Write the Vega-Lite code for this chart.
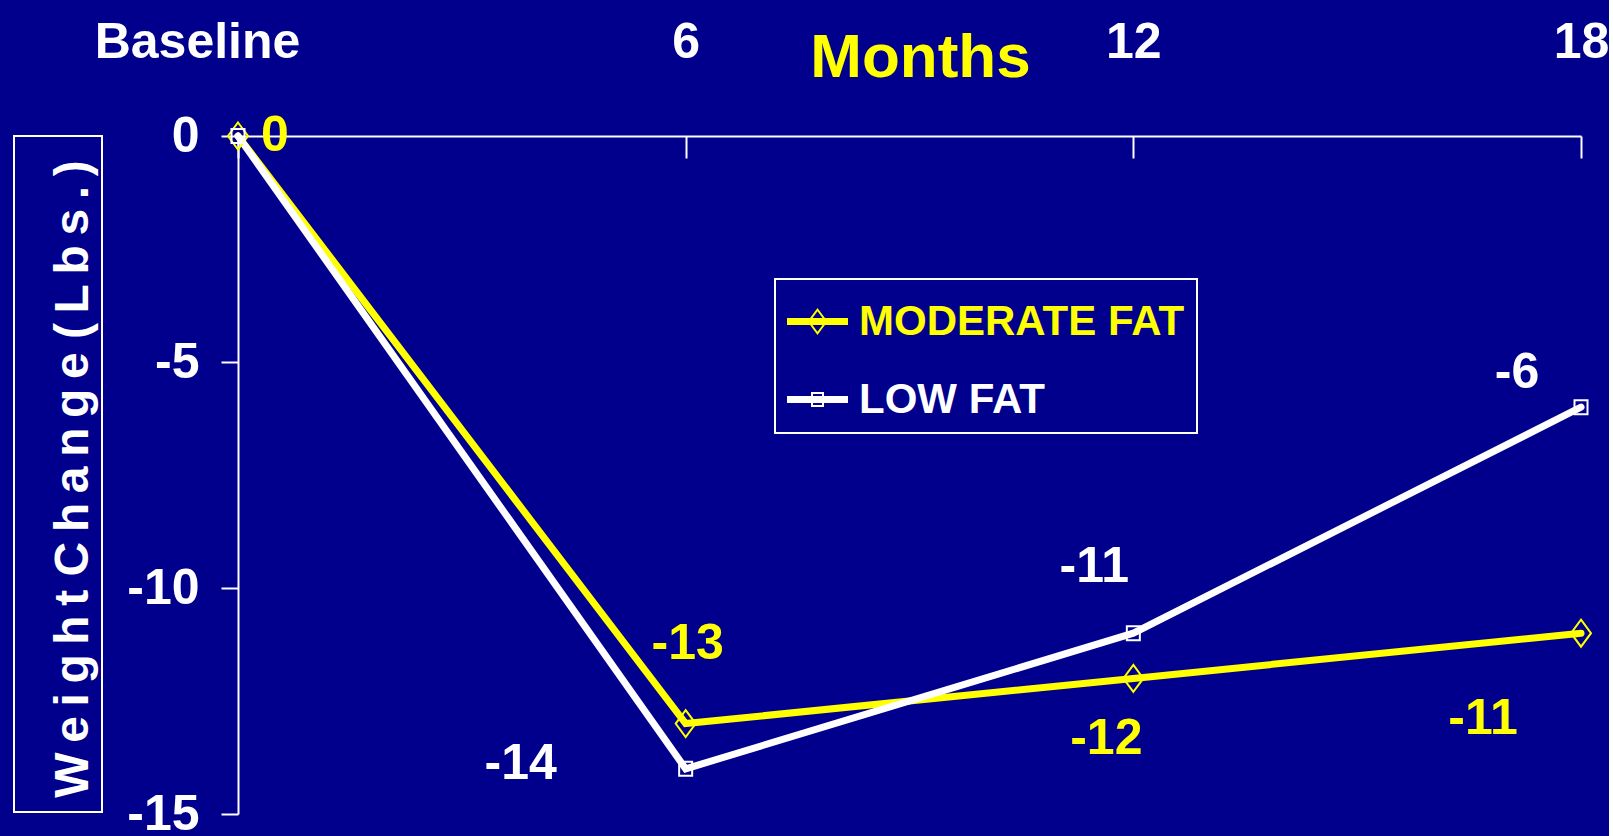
{
  "$schema": "https://vega.github.io/schema/vega-lite/v6.json",
  "background": "#00008C",
  "padding": {"left": 13, "top": 17, "right": 0, "bottom": 0},
  "bounds": "flush",
  "spacing": 136,
  "config": {"view": {"stroke": null}, "font": "Liberation Sans"},
  "datasets": {
    "weights": [
      {"series": "MODERATE FAT", "month": 0, "value": 0},
      {"series": "MODERATE FAT", "month": 6, "value": -13},
      {"series": "MODERATE FAT", "month": 12, "value": -12},
      {"series": "MODERATE FAT", "month": 18, "value": -11},
      {"series": "LOW FAT", "month": 0, "value": 0},
      {"series": "LOW FAT", "month": 6, "value": -14},
      {"series": "LOW FAT", "month": 12, "value": -11},
      {"series": "LOW FAT", "month": 18, "value": -6}
    ],
    "ytitle": [
      {"title": "W\u2009e\u2009i\u2009g\u2009h\u2009t C\u2009h\u2009a\u2009n\u2009g\u2009e (\u2009L\u2009b\u2009s\u2009.\u2009)"}
    ]
  },
  "hconcat": [
    {
      "width": 88,
      "height": 676,
      "view": {"stroke": "#ffffff", "strokeWidth": 2},
      "data": {"name": "ytitle"},
      "mark": {"type": "text", "angle": 270, "baseline": "alphabetic", "align": "center", "dx": -5, "dy": 30, "font": "Liberation Sans", "fontWeight": "bold", "fontSize": 48, "color": "#ffffff", "limit": 0},
      "encoding": {"text": {"field": "title", "type": "nominal"}}
    },
    {
      "width": 1343,
      "height": 678,
      "data": {"name": "weights"},
      "encoding": {
        "x": {
          "field": "month", "type": "quantitative",
          "scale": {"domain": [0, 18], "nice": false, "zero": false},
          "axis": {
            "orient": "top", "values": [0, 6, 12, 18],
            "labelExpr": "datum.value == 0 ? 'Baseline' : '' + datum.value",
            "labelFlush": false, "labelOverlap": false, "labelLimit": 600,
            "labelFont": "Liberation Sans", "labelFontWeight": "bold", "labelFontSize": 50,
            "labelColor": "#ffffff", "labelBaseline": "alphabetic", "labelPadding": 101,
            "labelOffset": {"condition": {"test": "datum.value == 0", "value": -41}, "value": 0},
            "tickSize": -22, "tickWidth": 2, "tickColor": "#ffffff",
            "domainColor": "#ffffff", "domainWidth": 2, "grid": false,
            "title": "Months", "titleFont": "Liberation Sans", "titleFontWeight": "bold", "titleFontSize": 62,
            "titleColor": "#ffff00", "titleX": 682, "titleY": -60, "titleBaseline": "alphabetic", "titleAlign": "center"
          }
        },
        "y": {
          "field": "value", "type": "quantitative",
          "scale": {"domain": [-15, 0], "nice": false},
          "axis": {
            "values": [0, -5, -10, -15],
            "labelExpr": "'' + datum.value",
            "labelFlush": false, "labelOverlap": false, "labelLimit": 600,
            "labelFont": "Liberation Sans", "labelFontWeight": "bold", "labelFontSize": 50,
            "labelColor": "#ffffff", "labelPadding": 22, "labelBaseline": "middle",
            "tickSize": 17, "tickWidth": 2, "tickColor": "#ffffff",
            "domainColor": "#ffffff", "domainWidth": 2, "grid": false, "title": null
          }
        }
      },
      "layer": [
        {
          "mark": {"type": "line", "strokeWidth": 7, "strokeCap": "round", "clip": false},
          "encoding": {
            "color": {
              "field": "series", "type": "nominal",
              "scale": {"domain": ["MODERATE FAT", "LOW FAT"], "range": ["#ffff00", "#ffffff"]},
              "legend": {
                "title": null, "orient": "none", "legendX": 761, "legendY": 143,
                "padding": 12, "strokeColor": "#ffffff", "rowPadding": 26,
                "symbolSize": 3721, "labelOffset": 11, "labelLimit": 600,
                "labelFont": "Liberation Sans", "labelFontWeight": "bold", "labelFontSize": 42,
                "labelBaseline": "middle",
                "encode": {
                  "legend": {"update": {"strokeWidth": {"value": 2}}},
                  "symbols": {"update": {
                    "shape": {"signal": "datum.value == 'MODERATE FAT' ? 'M-1,-0.115L1,-0.115L1,0.115L-1,0.115Z M0,-0.443L0.328,0L0,0.443L-0.328,0Z M0,-0.34L-0.25,0L0,0.34L0.25,0Z' : 'M-1,-0.115L1,-0.115L1,0.115L-1,0.115Z M-0.213,-0.246L0.213,-0.246L0.213,0.246L-0.213,0.246Z M-0.148,-0.18L-0.148,0.18L0.148,0.18L0.148,-0.18Z'"},
                    "size": {"value": 3721},
                    "fill": {"signal": "datum.value == 'MODERATE FAT' ? '#ffff00' : '#ffffff'"},
                    "stroke": {"value": "transparent"},
                    "strokeWidth": {"value": 0},
                    "opacity": {"value": 1},
                    "fillOpacity": {"value": 1}
                  }},
                  "labels": {"update": {
                    "fill": {"signal": "datum.value == 'MODERATE FAT' ? '#ffff00' : '#ffffff'"}
                  }}
                }
              }
            }
          }
        },
        {
          "mark": {
            "type": "point", "filled": false, "strokeWidth": 2, "size": 400, "opacity": 1, "clip": false,
            "shape": {"expr": "datum.series == 'MODERATE FAT' ? 'M0,-1.35L1,0L0,1.35L-1,0Z' : 'M-0.65,-0.7L0.65,-0.7L0.65,0.7L-0.65,0.7Z'"}
          },
          "encoding": {
            "color": {
              "field": "series", "type": "nominal",
              "scale": {"domain": ["MODERATE FAT", "LOW FAT"], "range": ["#ffff00", "#ffffff"]},
              "legend": null
            }
          }
        },
        {
          "transform": [{"filter": "!(datum.series == 'LOW FAT' && datum.month == 0)"}],
          "mark": {
            "type": "text", "font": "Liberation Sans", "fontWeight": "bold", "fontSize": 50,
            "align": "center", "baseline": "middle", "clip": false,
            "dx": {"expr": "datum.series == 'MODERATE FAT' ? (datum.month == 0 ? 37 : datum.month == 6 ? 2 : datum.month == 12 ? -27 : -98) : (datum.month == 6 ? -165 : datum.month == 12 ? -39 : -64)"},
            "dy": {"expr": "datum.series == 'MODERATE FAT' ? (datum.month == 0 ? 0 : datum.month == 6 ? -80 : datum.month == 12 ? 61 : 86) : (datum.month == 6 ? -5 : datum.month == 12 ? -66 : -34)"}
          },
          "encoding": {
            "text": {"field": "value", "type": "nominal"},
            "color": {
              "field": "series", "type": "nominal",
              "scale": {"domain": ["MODERATE FAT", "LOW FAT"], "range": ["#ffff00", "#ffffff"]},
              "legend": null
            }
          }
        }
      ]
    }
  ]
}
